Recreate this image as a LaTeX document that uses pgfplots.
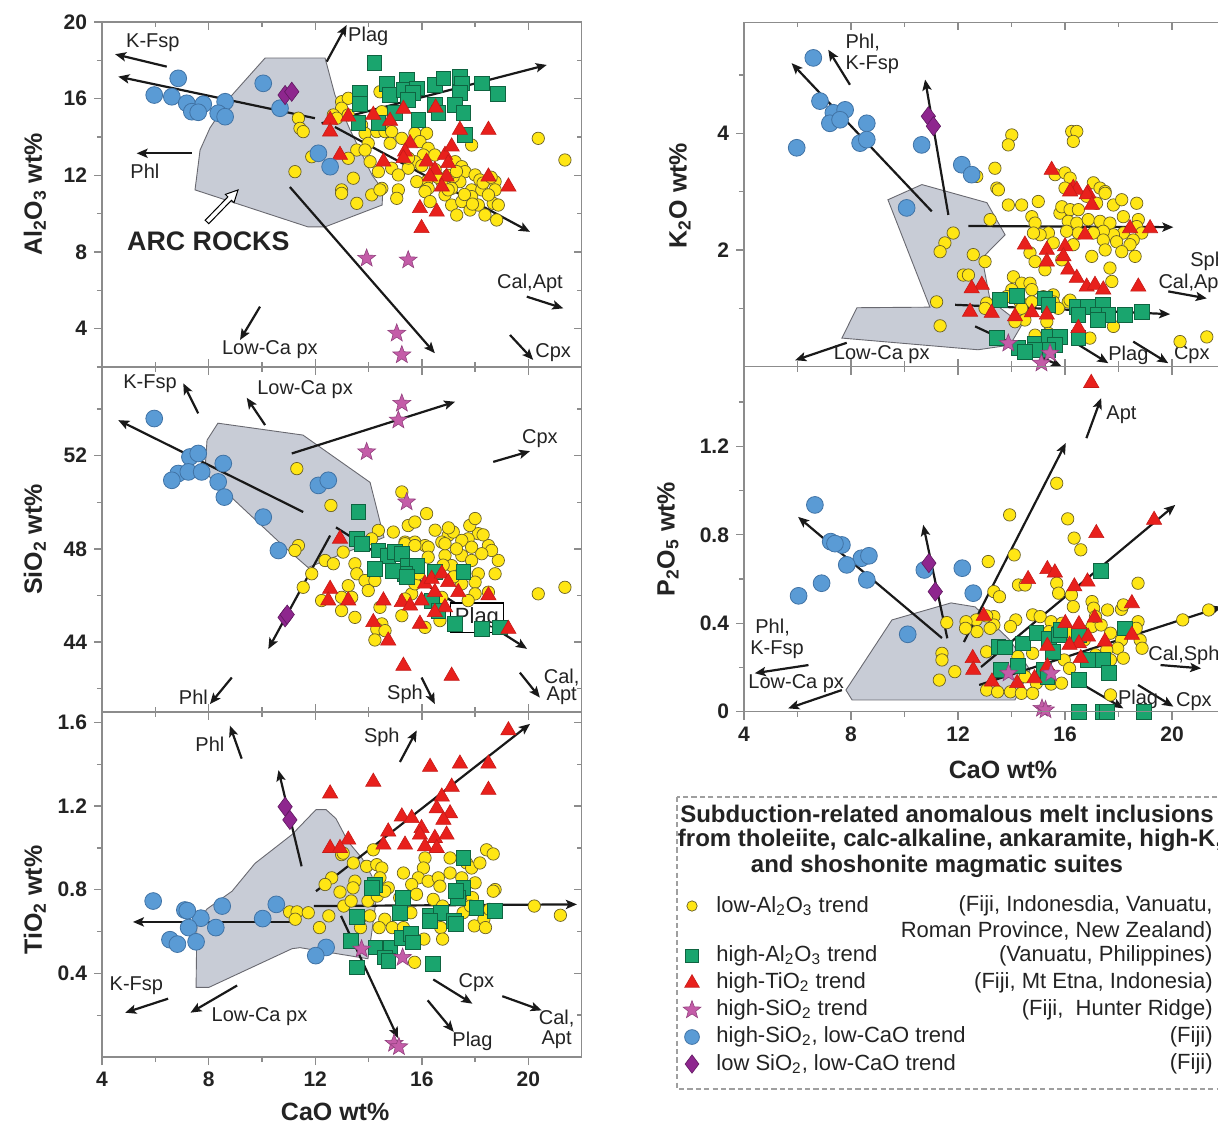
\documentclass[border=0pt]{standalone}
\usepackage{fontspec}
\setmainfont{Liberation Sans}
\usepackage{pgfplots}
\pgfplotsset{compat=1.18}
\usetikzlibrary{arrows.meta}

\definecolor{ylwfill}{RGB}{255,230,20}
\definecolor{ylwedge}{RGB}{105,95,40}
\definecolor{bluefill}{RGB}{90,155,213}
\definecolor{blueedge}{RGB}{65,115,165}
\definecolor{grnfill}{RGB}{26,165,110}
\definecolor{grnedge}{RGB}{15,100,65}
\definecolor{redfill}{RGB}{232,32,28}
\definecolor{pinkfill}{RGB}{196,92,168}
\definecolor{pinkedge}{RGB}{145,65,125}
\definecolor{purpfill}{RGB}{142,38,142}
\definecolor{purpedge}{RGB}{95,25,95}
\definecolor{arcfill}{RGB}{200,204,214}
\definecolor{arcedge}{RGB}{105,105,112}
\definecolor{framegray}{RGB}{140,140,140}
\definecolor{ink}{RGB}{35,35,35}

% filled five-pointed star
\pgfdeclareplotmark{fstar}{%
  \pgfpathmoveto{\pgfpointpolar{90}{\pgfplotmarksize}}%
  \pgfpathlineto{\pgfpointpolar{126}{0.42\pgfplotmarksize}}%
  \pgfpathlineto{\pgfpointpolar{162}{\pgfplotmarksize}}%
  \pgfpathlineto{\pgfpointpolar{198}{0.42\pgfplotmarksize}}%
  \pgfpathlineto{\pgfpointpolar{234}{\pgfplotmarksize}}%
  \pgfpathlineto{\pgfpointpolar{270}{0.42\pgfplotmarksize}}%
  \pgfpathlineto{\pgfpointpolar{306}{\pgfplotmarksize}}%
  \pgfpathlineto{\pgfpointpolar{342}{0.42\pgfplotmarksize}}%
  \pgfpathlineto{\pgfpointpolar{18}{\pgfplotmarksize}}%
  \pgfpathlineto{\pgfpointpolar{54}{0.42\pgfplotmarksize}}%
  \pgfpathclose
  \pgfusepathqfillstroke
}

\pgfplotsset{
  ylw/.style={only marks, mark=*, mark size=3.1pt, mark options={fill=ylwfill, draw=ylwedge, line width=0.35pt}},
  blu/.style={only marks, mark=*, mark size=4.2pt, mark options={fill=bluefill, draw=blueedge, line width=0.4pt}},
  grn/.style={only marks, mark=square*, mark size=3.7pt, mark options={fill=grnfill, draw=grnedge, line width=0.4pt}},
  rtri/.style={only marks, mark=triangle*, mark size=4.4pt, mark options={fill=redfill, draw=redfill!85!black, line width=0.3pt}},
  pstar/.style={only marks, mark=fstar, mark size=4.7pt, mark options={fill=pinkfill, draw=pinkedge, line width=0.3pt}},
  pdia/.style={only marks, mark=diamond*, mark size=4.8pt, mark options={fill=purpfill, draw=purpedge, line width=0.3pt}},
  arc/.style={fill=arcfill, draw=arcedge, line width=0.45pt},
  panel/.style={scale only axis, clip=false, anchor=north west, xmin=4, xmax=22,
    axis line style={draw=framegray, line width=0.7pt},
    tick style={draw=framegray, line width=0.7pt},
    major tick length=4pt, minor tick length=2.6pt,
    /pgf/number format/assume math mode=true,
    ticklabel style={font=\bfseries\fontsize{10.5}{12}\selectfont, text=ink},
    label style={font=\bfseries\fontsize{12.5}{14}\selectfont, text=ink}},
  leftpanel/.style={panel, width=239.85pt, height=172.5pt},
  rightpanel/.style={panel, width=240.75pt, height=172.5pt},
  % second frame carrying only the inward ticks on the top and right sides
  ticksin/.style={tick align=inside, ytick pos=right,
    xticklabel={\relax}, yticklabel={\relax},
    xtick={4,8,12,16,20}, minor xtick={6,10,14,18}},
}
\tikzset{
  arr/.style={-{Stealth[length=5.5pt,width=4.6pt,inset=1.2pt]}, line width=1.1pt, draw=black!90},
  lbl/.style={font=\fontsize{10}{12}\selectfont, text=ink, inner sep=0pt},
}

\begin{document}
\begin{tikzpicture}
\path[use as bounding box, clip] (0,0) rectangle (609pt,-561.5pt);

%% ---------------- Al2O3 vs CaO ----------------
\begin{axis}[leftpanel, at={(51pt,-11pt)}, ymin=2, ymax=20,
  ytick={4,8,12,16,20}, minor ytick={2,6,10,14,18}, xtick=\empty,
  tick align=outside, ytick pos=left,
  ylabel={Al\textsubscript{2}O\textsubscript{3} wt\%},
  ylabel style={at={(axis description cs:-0.140,0.5)}, anchor=center}]
\addplot[arc] coordinates {(10.12,18.12)(12.37,18.12)(12.74,16.19)(13.31,14.37)(14.13,12.02)(14.54,11.24)(14.51,10.45)(12.37,9.31)(11.73,9.31)(7.49,11.24)(7.68,13.32)(8.05,14.47)(8.88,16.19)} -- cycle;
\draw[arr] (6.43,17.67) -- (4.49,18.32);
\draw[arr] (11.99,14.98) -- (4.61,17.15);
\draw[arr] (7.37,13.15) -- (5.30,13.15);
\draw[arr] (12.43,17.93) -- (13.18,19.84);
\draw[arr] (12.24,14.72) -- (20.69,17.76);
\draw[arr] (12.74,14.52) -- (20.06,9.05);
\draw[arr] (11.05,11.39) -- (16.49,2.72);
\draw[arr] (19.94,5.67) -- (21.31,5.06);
\draw[arr] (19.31,3.67) -- (20.18,2.37);
\draw[arr] (9.93,5.15) -- (9.18,3.41);
\addplot[ylw] coordinates {(12.99,15.84)(13.24,16.02)(14.43,16.36)(12.99,15.50)(12.68,15.15)(12.81,14.98)(11.37,14.98)(11.43,14.45)(11.55,14.28)(14.50,15.32)(13.24,15.15)(13.74,14.63)(13.87,14.19)(14.31,14.28)(14.62,14.28)(14.87,14.28)(15.74,14.19)(16.18,14.19)(13.99,13.67)(14.81,13.67)(13.56,13.32)(13.87,13.32)(15.25,13.93)(15.93,13.76)(16.24,13.41)(16.06,13.06)(15.74,12.71)(16.49,13.06)(17.87,13.58)(20.37,13.93)(21.37,12.80)(13.24,12.89)(14.06,12.71)(11.87,12.97)(11.24,12.19)(13.43,11.85)(14.37,12.19)(14.87,12.37)(15.49,12.37)(15.12,12.02)(17.25,12.71)(17.50,12.45)(17.62,12.19)(18.00,12.02)(18.18,11.76)(18.75,11.67)(17.43,11.67)(17.18,11.93)(16.75,11.67)(16.18,11.67)(16.24,11.32)(17.12,11.32)(17.87,11.24)(18.25,11.24)(18.75,11.24)(12.99,11.24)(14.50,11.32)(15.12,11.24)(15.81,11.67)(12.99,11.06)(13.56,10.54)(14.12,10.98)(14.43,11.24)(15.06,10.80)(16.12,11.15)(16.31,10.63)(16.87,10.98)(17.12,10.45)(17.31,9.93)(17.50,10.63)(17.87,10.89)(17.81,10.19)(18.12,10.45)(18.37,9.93)(18.68,10.54)(18.87,10.45)(18.81,9.67)(18.50,10.98)(16.99,11.24)(16.5,12.3)(17.0,12.0)(17.6,11.0)(18.3,11.6)(16.6,11.9)(17.9,10.5)(18.6,11.9)(16.0,12.5)(17.3,12.2)(15.5,12.9)};
\addplot[grn] coordinates {(14.22,17.85)(13.68,16.28)(13.68,15.71)(14.68,16.75)(14.81,16.19)(15.43,16.97)(15.31,16.45)(15.81,16.54)(15.68,16.28)(15.49,15.93)(16.49,16.71)(16.81,17.06)(17.43,17.15)(17.50,16.80)(17.43,16.28)(18.25,16.80)(18.87,16.23)(16.49,15.67)(17.25,15.67)(16.62,15.24)(17.56,15.24)(14.99,15.24)(15.87,14.89)(13.62,14.72)(14.37,14.72)(17.62,14.11)};
\addplot[rtri] coordinates {(12.56,14.89)(12.56,14.28)(13.24,15.06)(14.18,15.15)(14.81,14.84)(15.31,15.46)(16.52,15.53)(17.43,14.37)(18.50,14.37)(12.93,13.06)(14.56,12.71)(15.56,13.67)(15.37,13.23)(15.31,12.89)(16.87,13.06)(17.12,13.50)(16.18,12.71)(16.99,12.63)(16.49,12.28)(16.31,11.93)(16.93,11.93)(18.50,11.93)(16.75,11.41)(19.25,11.41)(15.93,10.28)(16.56,10.10)(15.99,9.24)};
\addplot[blu] coordinates {(6.86,17.06)(5.96,16.19)(6.62,16.10)(7.18,15.76)(7.80,15.71)(7.37,15.32)(7.61,15.29)(8.62,15.84)(8.36,15.24)(8.62,15.06)(10.05,16.80)(10.68,15.50)(12.12,13.15)(12.56,12.45)};
\addplot[pdia] coordinates {(10.87,16.19)(11.12,16.36)};
\addplot[pstar] coordinates {(13.93,7.67)(15.49,7.58)(15.06,3.76)(15.25,2.63)};
\draw[fill=white, draw=black, line width=0.5pt] (8.008,9.478) -- (8.859,10.699) -- (8.952,10.569) -- (9.103,11.236) -- (8.628,11.007) -- (8.724,10.876) -- (7.872,9.656) -- cycle;
\node[lbl] at (5.91,18.90) {K-Fsp};
\node[lbl] at (5.61,12.19) {Phl};
\node[lbl] at (13.99,19.23) {Plag};
\node[lbl] at (20.06,6.37) {Cal,Apt};
\node[lbl] at (20.93,2.75) {Cpx};
\node[lbl] at (10.30,2.93) {Low-Ca px};
\node[font=\bfseries\fontsize{13.4}{15}\selectfont, text=ink] at (7.99,8.54) {ARC ROCKS};
\end{axis}
\begin{axis}[leftpanel, ticksin, at={(51pt,-11pt)}, ymin=2, ymax=20,
  ytick={4,8,12,16,20}, minor ytick={2,6,10,14,18}, xtick pos=both]
\end{axis}

%% ---------------- SiO2 vs CaO ----------------
\begin{axis}[leftpanel, at={(51pt,-183.5pt)}, ymin=41, ymax=55.8,
  ytick={44,48,52}, minor ytick={42,46,50,54}, xtick=\empty,
  tick align=outside, ytick pos=left,
  ylabel={SiO\textsubscript{2} wt\%},
  ylabel style={at={(axis description cs:-0.140,0.5)}, anchor=center}]
\addplot[arc] coordinates {(8.35,53.39)(11.54,52.88)(14.06,50.85)(14.58,48.49)(11.73,47.20)(10.79,48.14)(9.18,49.86)(7.86,51.28)(7.94,52.66)} -- cycle;
\draw[arr] (7.61,53.81) -- (7.05,55.10);
\draw[arr] (10.12,53.31) -- (9.43,54.48);
\draw[arr] (11.55,49.58) -- (4.61,53.52);
\draw[arr] (11.12,52.09) -- (17.25,54.31);
\draw[arr] (18.68,51.73) -- (20.06,52.19);
\draw[arr] (12.56,48.57) -- (10.24,43.70);
\draw[arr] (12.78,48.92) -- (19.95,43.71);
\draw[arr] (8.87,42.48) -- (8.05,41.34);
\draw[arr] (15.99,42.48) -- (16.49,41.34);
\draw[arr] (19.68,42.69) -- (20.43,41.62);
\addplot[ylw] coordinates {(11.31,51.44)(12.59,49.86)(15.25,50.44)(16.18,49.51)(15.49,49.00)(15.74,49.15)(14.37,48.79)(14.93,48.72)(16.99,48.57)(17.18,48.72)(18.12,48.65)(17.74,48.43)(14.12,48.43)(11.37,48.14)(15.37,48.29)(15.74,48.29)(16.12,48.14)(16.75,48.29)(17.50,48.36)(18.50,48.14)(11.24,47.93)(11.87,46.93)(11.55,46.35)(12.37,47.50)(12.68,47.36)(13.05,47.86)(13.49,47.36)(13.56,46.93)(13.24,46.42)(13.87,46.64)(14.24,46.64)(13.99,46.21)(12.24,45.78)(12.99,45.92)(13.37,45.92)(12.99,45.35)(13.49,45.06)(14.43,45.49)(15.25,45.13)(14.50,44.78)(14.31,44.56)(14.62,44.49)(14.24,44.09)(16.12,44.63)(16.68,44.92)(15.62,46.07)(15.74,46.50)(15.87,46.93)(14.74,47.79)(15.37,48.22)(15.74,48.14)(16.24,48.07)(16.24,47.64)(16.87,47.71)(17.12,47.28)(17.50,47.71)(17.87,47.50)(17.62,46.93)(18.12,46.93)(18.00,46.57)(18.75,46.93)(18.87,47.50)(18.62,47.93)(16.87,48.22)(17.87,48.07)(18.25,47.79)(17.50,46.50)(18.00,46.07)(18.50,46.14)(17.74,45.78)(20.37,46.07)(21.37,46.35)(16.75,45.92)(15.37,45.85)(17.0,48.9)(17.8,49.0)(18.3,48.6)(16.5,48.8)(17.3,48.0)(18.0,49.3)(16.8,47.3)(17.2,46.8)};
\addplot[grn] coordinates {(13.62,49.58)(13.56,48.43)(13.74,48.22)(14.37,47.93)(14.74,47.71)(14.99,47.86)(15.25,47.79)(15.49,47.28)(15.81,47.28)(15.37,46.93)(14.93,47.07)(14.24,47.14)(15.43,46.78)(17.56,47.00)(16.37,45.78)(16.62,45.35)(17.25,44.78)(18.25,44.56)(18.94,44.63)(16.49,47.0)};
\addplot[rtri] coordinates {(12.93,48.43)(12.56,46.28)(12.49,45.78)(13.24,45.78)(14.56,45.78)(15.25,45.71)(15.56,45.56)(14.18,44.85)(14.74,44.06)(15.93,44.78)(15.31,42.98)(17.12,42.55)(16.12,46.50)(16.37,46.71)(16.75,46.93)(16.99,46.57)(16.49,46.14)(17.37,46.14)(18.50,46.00)(15.99,45.78)(16.87,45.49)(16.49,45.28)(19.25,44.56)};
\addplot[blu] coordinates {(5.96,53.59)(7.30,51.94)(7.61,52.09)(8.55,51.66)(6.86,51.23)(7.24,51.30)(6.62,50.94)(7.74,51.30)(8.36,50.87)(8.59,50.22)(10.05,49.36)(12.12,50.72)(12.49,50.94)(10.62,47.93)};
\addplot[pdia] coordinates {(10.87,45.06)(10.95,45.18)};
\addplot[pstar] coordinates {(15.25,54.24)(15.12,53.52)(13.93,52.16)(15.43,50.01)};
\node[lbl] at (5.80,55.10) {K-Fsp};
\node[lbl] at (11.62,54.81) {Low-Ca px};
\node[lbl] at (20.43,52.73) {Cpx};
\node[lbl, draw=black, fill=white, inner sep=2.2pt, line width=0.6pt, font=\fontsize{11}{13}\selectfont] at (18.07,45.05) {Plag};
\node[lbl] at (7.43,41.62) {Phl};
\node[lbl] at (15.37,41.77) {Sph};
\node[lbl] at (21.25,42.48) {Cal,};
\node[lbl] at (21.25,41.69) {Apt};
\end{axis}
\begin{axis}[leftpanel, ticksin, at={(51pt,-183.5pt)}, ymin=41, ymax=55.8,
  ytick={44,48,52}, minor ytick={42,46,50,54}, xtick pos=both]
\end{axis}

%% ---------------- TiO2 vs CaO ----------------
\begin{axis}[leftpanel, at={(51pt,-356pt)}, ymin=0, ymax=1.65,
  ytick={0.4,0.8,1.2,1.6}, yticklabels={0.4,0.8,1.2,1.6}, minor ytick={0.2,0.6,1.0,1.4},
  xtick={4,8,12,16,20}, xticklabels={4,8,12,16,20}, minor xtick={6,10,14,18},
  tick align=outside, ytick pos=left, xtick pos=left,
  ylabel={TiO\textsubscript{2} wt\%},
  ylabel style={at={(axis description cs:-0.140,0.455)}, anchor=center},
  xlabel={CaO wt\%},
  xlabel style={at={(axis description cs:0.486,-0.158)}, anchor=center}]
\addplot[arc] coordinates {(12.03,1.183)(12.41,1.183)(12.78,1.140)(13.23,1.031)(13.76,0.950)(14.13,0.865)(14.28,0.746)(14.13,0.603)(13.98,0.470)(11.43,0.523)(11.13,0.518)(8.01,0.333)(7.53,0.333)(7.56,0.641)(7.94,0.708)(8.88,0.793)(9.74,0.926)(11.13,1.064)} -- cycle;
\draw[arr] (9.24,1.427) -- (8.80,1.585);
\draw[arr] (15.18,1.411) -- (15.81,1.562);
\draw[arr] (12.03,0.793) -- (20.06,1.593);
\draw[arr] (11.49,0.912) -- (10.62,1.372);
\draw[arr] (11.95,0.722) -- (21.82,0.730);
\draw[arr] (11.17,0.646) -- (5.16,0.646);
\draw[arr] (12.97,0.675) -- (15.11,0.090);
\draw[arr] (6.48,0.279) -- (4.87,0.212);
\draw[arr] (9.07,0.342) -- (7.32,0.212);
\draw[arr] (16.43,0.371) -- (17.90,0.255);
\draw[arr] (16.22,0.271) -- (17.20,0.120);
\draw[arr] (19.02,0.291) -- (20.50,0.223);
\addplot[ylw] coordinates {(12.99,0.968)(13.05,0.975)(14.18,0.991)(18.43,0.991)(18.68,0.971)(16.12,0.952)(17.06,0.952)(13.43,0.928)(13.93,0.912)(14.31,0.920)(14.50,0.904)(17.68,0.928)(17.87,0.904)(18.18,0.928)(16.06,0.904)(15.31,0.880)(15.87,0.857)(16.24,0.841)(16.62,0.857)(17.06,0.880)(17.50,0.857)(18.00,0.833)(12.62,0.857)(12.37,0.825)(13.49,0.841)(14.43,0.857)(14.74,0.809)(15.62,0.825)(18.75,0.801)(16.68,0.817)(11.04,0.694)(11.32,0.694)(11.74,0.690)(11.25,0.659)(12.16,0.619)(12.51,0.675)(12.93,0.789)(13.42,0.809)(13.07,0.722)(13.35,0.746)(13.98,0.746)(14.33,0.770)(14.61,0.793)(13.70,0.667)(14.05,0.675)(14.61,0.659)(14.40,0.619)(13.70,0.619)(14.89,0.619)(15.31,0.619)(15.59,0.690)(15.80,0.778)(16.43,0.754)(16.78,0.722)(16.29,0.667)(16.71,0.619)(16.08,0.564)(16.78,0.564)(15.73,0.453)(17.90,0.762)(17.97,0.627)(18.33,0.659)(18.39,0.619)(18.54,0.706)(18.68,0.793)(20.22,0.722)(21.20,0.678)(15.17,0.762)(17.55,0.690)(17.83,0.722)};
\addplot[grn] coordinates {(17.56,0.952)(14.24,0.825)(17.56,0.809)(15.28,0.762)(13.56,0.671)(15.17,0.690)(16.29,0.675)(16.71,0.690)(17.20,0.651)(17.34,0.762)(17.27,0.793)(18.05,0.714)(18.74,0.698)(13.35,0.556)(14.26,0.524)(14.82,0.524)(14.61,0.476)(14.75,0.461)(13.56,0.429)(15.24,0.571)(15.59,0.588)(15.66,0.548)(16.43,0.445)(16.29,0.651)(17.27,0.635)(14.12,0.809)};
\addplot[rtri] coordinates {(19.25,1.562)(16.31,1.387)(17.43,1.403)(18.50,1.403)(14.18,1.316)(12.56,1.260)(17.12,1.292)(18.50,1.277)(16.75,1.245)(16.56,1.189)(17.06,1.165)(15.25,1.150)(15.62,1.142)(16.81,1.134)(14.74,1.078)(15.99,1.094)(15.93,1.063)(16.49,1.047)(16.93,1.063)(13.24,1.039)(12.56,0.999)(12.93,0.999)(14.56,1.015)(15.37,1.015)(16.12,1.007)(16.56,0.999)};
\addplot[blu] coordinates {(5.92,0.746)(7.11,0.703)(7.71,0.664)(7.25,0.619)(8.27,0.619)(8.51,0.722)(10.54,0.730)(10.03,0.662)(6.55,0.561)(6.83,0.540)(7.53,0.551)(12.41,0.524)(12.02,0.485)(7.20,0.700)};
\addplot[pdia] coordinates {(10.87,1.197)(11.05,1.134)};
\addplot[pstar] coordinates {(13.74,0.516)(15.28,0.476)(14.96,0.065)(15.14,0.049)};
\node[lbl] at (8.05,1.498) {Phl};
\node[lbl] at (14.50,1.530) {Sph};
\node[lbl] at (5.29,0.342) {K-Fsp};
\node[lbl] at (9.91,0.191) {Low-Ca px};
\node[lbl] at (18.05,0.358) {Cpx};
\node[lbl] at (17.90,0.073) {Plag};
\node[lbl] at (21.06,0.184) {Cal,};
\node[lbl] at (21.06,0.081) {Apt};
\end{axis}
\begin{axis}[leftpanel, ticksin, at={(51pt,-356pt)}, ymin=0, ymax=1.65,
  ytick={0.4,0.8,1.2,1.6}, minor ytick={0.2,0.6,1.0,1.4}, xtick pos=right]
\end{axis}

%% ---------------- K2O vs CaO ----------------
\begin{axis}[rightpanel, at={(372pt,-11.15pt)}, height=172.2pt, ymin=0, ymax=5.9,
  ytick={2,4}, yticklabels={2,4}, minor ytick={1,3,5}, xtick=\empty,
  tick align=outside, ytick pos=left,
  ylabel={K\textsubscript{2}O wt\%},
  ylabel style={at={(axis description cs:-0.133,0.497)}, anchor=center}]
\addplot[arc] coordinates {(9.38,2.86)(10.65,3.12)(13.08,2.81)(13.76,2.26)(12.90,1.86)(13.20,1.14)(14.39,0.72)(13.94,0.37)(12.75,0.29)(7.66,0.49)(8.22,1.01)(10.95,1.02)} -- cycle;
\draw[arr] (11.02,2.66) -- (5.78,5.20);
\draw[arr] (7.96,4.83) -- (7.15,5.43);
\draw[arr] (11.64,2.60) -- (10.77,4.92);
\draw[arr] (12.39,2.41) -- (20.05,2.39);
\draw[arr] (11.89,1.06) -- (19.93,0.90);
\draw[arr] (12.64,0.69) -- (15.88,0.0);
\draw[arr] (16.31,0.43) -- (17.62,0.06);
\draw[arr] (18.55,0.43) -- (19.86,0.06);
\draw[arr] (19.86,1.29) -- (21.30,1.17);
\draw[arr] (7.84,0.41) -- (5.91,0.11);
\addplot[ylw] coordinates {(14.01,3.97)(13.88,3.80)(16.25,4.03)(16.44,4.03)(16.31,3.86)(12.70,3.26)(13.38,3.40)(13.45,3.06)(15.63,3.29)(16.00,3.32)(16.19,3.23)(17.06,3.15)(17.31,3.06)(16.00,3.06)(17.50,3.00)(13.51,3.03)(13.88,2.77)(14.38,2.77)(15.00,2.83)(14.76,2.57)(13.20,2.52)(14.88,2.46)(15.81,2.63)(15.88,2.74)(16.19,2.69)(16.50,2.69)(16.81,2.92)(17.18,2.80)(17.50,2.97)(17.81,2.77)(18.12,2.86)(18.68,2.80)(16.12,2.49)(16.44,2.46)(16.87,2.52)(17.31,2.49)(17.68,2.46)(18.18,2.57)(18.74,2.52)(18.68,2.40)(18.87,2.29)(18.18,2.29)(17.81,2.26)(17.43,2.32)(17.06,2.29)(16.50,2.29)(16.06,2.32)(15.38,2.29)(15.56,2.12)(15.07,2.26)(14.82,2.29)(17.43,2.17)(17.93,2.14)(18.55,2.17)(18.43,2.09)(18.12,1.97)(17.50,2.00)(17.00,1.89)(18.62,1.89)(17.68,1.69)(17.75,1.46)(16.31,2.09)(15.88,1.83)(14.69,1.95)(15.25,1.66)(14.88,1.80)(11.82,2.29)(11.51,2.12)(11.33,1.97)(12.57,1.92)(13.01,1.80)(12.20,1.57)(12.39,1.57)(11.20,1.11)(11.33,0.70)(14.07,1.54)(14.38,1.43)(14.69,1.43)(14.76,1.32)(14.01,1.32)(13.82,1.20)(13.07,1.09)(13.01,1.00)(14.32,1.11)(14.76,1.11)(14.38,1.00)(15.19,1.20)(15.56,1.23)(16.12,1.11)(15.56,1.11)(15.75,1.00)(14.50,0.80)(14.13,0.77)(15.32,0.77)(14.88,0.54)(15.38,0.57)(16.93,0.49)(17.81,0.69)(20.30,0.43)(21.30,0.51)(16.19,1.14)};
\addplot[grn] coordinates {(13.57,1.14)(14.19,1.21)(15.25,1.17)(15.38,1.06)(16.44,1.03)(16.87,1.03)(17.43,1.06)(17.24,0.89)(17.62,0.89)(17.24,0.80)(16.50,0.89)(18.24,0.89)(18.87,0.94)(13.45,0.49)(14.26,0.32)(14.88,0.40)(15.38,0.51)(15.81,0.51)(15.63,0.37)(15.38,0.29)(14.88,0.29)(16.50,0.49)(14.50,0.26)};
\addplot[rtri] coordinates {(15.50,3.37)(16.31,3.06)(16.44,3.03)(16.87,2.97)(16.19,3.00)(16.81,2.95)(17.00,2.77)(16.75,2.26)(18.43,2.37)(19.18,2.37)(14.50,2.09)(15.32,2.00)(16.00,2.06)(15.94,1.89)(15.32,1.80)(16.12,1.66)(16.44,1.52)(16.81,1.37)(17.12,1.40)(17.43,1.32)(18.74,1.37)(12.89,1.40)(12.51,1.34)(12.45,0.94)(13.26,0.92)(14.13,0.86)(14.76,0.93)(15.32,0.89)(16.50,0.66)};
\addplot[blu] coordinates {(6.59,5.29)(6.84,4.55)(7.34,4.35)(7.78,4.40)(7.21,4.17)(7.59,4.23)(8.59,4.17)(8.34,3.83)(8.59,3.89)(5.97,3.75)(10.64,3.80)(12.14,3.46)(12.51,3.29)(10.08,2.72)};
\addplot[pdia] coordinates {(10.89,4.29)(11.08,4.12)};
\addplot[pstar] coordinates {(13.88,0.40)(15.44,0.23)(15.12,0.06)};
\node[lbl, anchor=west] at (7.78,5.55) {Phl,};
\node[lbl, anchor=west] at (7.78,5.17) {K-Fsp};
\node[lbl] at (18.37,0.20) {Plag};
\node[lbl] at (20.74,0.20) {Cpx};
\node[lbl, anchor=west] at (20.67,1.80) {Sph};
\node[lbl, anchor=west] at (19.48,1.43) {Cal,Apt};
\node[lbl] at (9.15,0.20) {Low-Ca px};
\end{axis}
\begin{axis}[rightpanel, ticksin, at={(372pt,-11.15pt)}, height=172.2pt, ymin=0, ymax=5.9,
  ytick={2,4}, minor ytick={1,3,5}, xtick pos=both]
\end{axis}

%% ---------------- P2O5 vs CaO ----------------
\begin{axis}[rightpanel, at={(372pt,-183.35pt)}, ymin=0, ymax=1.56,
  ytick={0,0.4,0.8,1.2}, yticklabels={0,0.4,0.8,1.2}, minor ytick={0.2,0.6,1.0,1.4},
  xtick={4,8,12,16,20}, xticklabels={4,8,12,16,20}, minor xtick={6,10,14,18},
  tick align=outside, ytick pos=left, xtick pos=left,
  ylabel={P\textsubscript{2}O\textsubscript{5} wt\%},
  ylabel style={at={(axis description cs:-0.158,0.5)}, anchor=center},
  xlabel={CaO wt\%},
  xlabel style={at={(axis description cs:0.538,-0.169)}, anchor=center}]
\addplot[arc] coordinates {(7.81,0.098)(8.04,0.053)(14.13,0.053)(14.69,0.189)(13.94,0.324)(12.64,0.474)(11.74,0.492)(9.53,0.415)} -- cycle;
\draw[arr] (16.80,1.237) -- (17.35,1.418);
\draw[arr] (12.22,0.315) -- (16.03,1.215);
\draw[arr] (12.86,0.202) -- (20.12,0.935);
\draw[arr] (11.40,0.333) -- (6.02,0.881);
\draw[arr] (11.60,0.332) -- (10.70,0.845);
\draw[arr] (12.79,0.121) -- (21.87,0.475);
\draw[arr] (6.41,0.211) -- (4.40,0.174);
\draw[arr] (7.66,0.098) -- (5.65,0.015);
\draw[arr] (19.57,0.211) -- (21.09,0.196);
\draw[arr] (16.80,0.113) -- (18.18,0.015);
\draw[arr] (18.73,0.121) -- (20.05,0.023);
\addplot[ylw] coordinates {(15.69,1.033)(13.93,0.890)(16.10,0.872)(16.34,0.785)(16.59,0.732)(14.10,0.709)(13.13,0.679)(14.26,0.573)(14.51,0.573)(13.34,0.543)(13.55,0.520)(15.69,0.581)(15.76,0.536)(16.24,0.528)(16.31,0.475)(17.01,0.498)(17.07,0.468)(17.59,0.460)(18.11,0.463)(18.18,0.483)(18.73,0.581)(14.79,0.438)(15.07,0.430)(14.16,0.415)(13.96,0.385)(13.34,0.430)(13.34,0.392)(13.07,0.433)(13.20,0.377)(12.68,0.415)(12.71,0.362)(13.07,0.271)(12.30,0.407)(12.28,0.377)(11.40,0.264)(11.40,0.234)(11.88,0.181)(11.30,0.143)(11.58,0.403)(15.48,0.407)(15.41,0.362)(15.89,0.400)(16.17,0.355)(16.72,0.362)(17.01,0.385)(17.35,0.392)(17.70,0.355)(18.11,0.324)(17.97,0.287)(17.56,0.279)(17.14,0.257)(18.18,0.242)(18.81,0.324)(18.73,0.407)(18.88,0.287)(18.66,0.377)(17.70,0.234)(14.24,0.249)(14.79,0.264)(15.97,0.234)(16.17,0.196)(14.51,0.158)(14.93,0.129)(15.48,0.125)(13.07,0.098)(13.48,0.090)(13.96,0.090)(14.37,0.083)(14.79,0.083)(17.70,0.076)(20.40,0.415)(21.37,0.460)(15.87,0.129)(17.14,0.430)(16.72,0.324)};
\addplot[grn] coordinates {(17.35,0.638)(18.25,0.377)(13.51,0.294)(13.75,0.291)(14.44,0.309)(14.93,0.355)(15.41,0.328)(15.76,0.347)(15.83,0.370)(14.24,0.207)(13.61,0.189)(15.20,0.189)(15.34,0.158)(15.55,0.271)(16.52,0.347)(16.86,0.234)(17.42,0.234)(17.63,0.174)(16.52,0.143)(16.52,0.0)(17.42,0.0)(17.56,0.0)(18.94,0.0)};
\addplot[rtri] coordinates {(16.98,1.486)(17.17,0.807)(19.33,0.867)(15.34,0.644)(15.62,0.629)(14.62,0.599)(16.35,0.566)(16.84,0.588)(18.50,0.490)(17.11,0.425)(16.01,0.400)(16.52,0.395)(16.86,0.339)(16.52,0.309)(16.17,0.302)(17.49,0.317)(18.50,0.347)(15.34,0.297)(12.96,0.433)(12.55,0.242)(12.57,0.189)(16.59,0.242)(15.34,0.204)(14.86,0.151)(13.27,0.136)(14.21,0.129)};
\addplot[blu] coordinates {(6.65,0.935)(7.24,0.769)(7.66,0.754)(8.39,0.694)(8.67,0.705)(7.84,0.664)(6.90,0.581)(8.59,0.596)(6.04,0.524)(10.74,0.641)(12.16,0.649)(12.57,0.536)(10.12,0.350)(7.40,0.760)};
\addplot[pdia] coordinates {(10.91,0.672)(11.15,0.543)};
\addplot[pstar] coordinates {(13.89,0.174)(15.48,0.174)(15.14,0.015)(15.27,0.008)};
\node[lbl] at (18.11,1.343) {Apt};
\node[lbl, anchor=west] at (4.41,0.379) {Phl,};
\node[lbl, anchor=west] at (4.22,0.279) {K-Fsp};
\node[lbl, anchor=west] at (4.15,0.129) {Low-Ca px};
\node[lbl, anchor=west] at (19.10,0.257) {Cal,Sph};
\node[lbl] at (18.73,0.056) {Plag};
\node[lbl] at (20.82,0.045) {Cpx};
\end{axis}
\begin{axis}[rightpanel, ticksin, at={(372pt,-183.35pt)}, ymin=0, ymax=1.56,
  ytick={0,0.4,0.8,1.2}, minor ytick={0.2,0.6,1.0,1.4}, xtick pos=right]
\end{axis}

%% ---------------- key to symbols ----------------
\begin{axis}[at={(337.5pt,-397.5pt)}, anchor=north west, scale only axis,
  width=282.5pt, height=147.5pt, xmin=675, xmax=1240, ymin=795, ymax=1090,
  y dir=reverse, hide axis, clip=false]
\draw[draw=gray!75, line width=0.55pt, dash pattern=on 2.6pt off 1.6pt] (677,797) rectangle (1260,1089);
\node[font=\bfseries\fontsize{12}{14}\selectfont, text=ink] at (947,814) {Subduction-related anomalous melt inclusions};
\node[font=\bfseries\fontsize{12}{14}\selectfont, text=ink] at (950,840) {from tholeiite, calc-alkaline, ankaramite, high-K,};
\node[font=\bfseries\fontsize{12}{14}\selectfont, text=ink] at (937,866) {and shoshonite magmatic suites};
\addplot[ylw, mark size=2.6pt] coordinates {(692,906)};
\addplot[grn, mark size=3.4pt] coordinates {(692,956)};
\addplot[rtri, mark size=4.2pt] coordinates {(692,983)};
\addplot[pstar, mark size=4.7pt] coordinates {(692,1010)};
\addplot[blu, mark size=3.7pt] coordinates {(692,1037)};
\addplot[pdia, mark size=4.6pt] coordinates {(692,1064)};
\begin{scope}[every node/.style={font=\fontsize{11}{13}\selectfont, text=ink, inner sep=0pt}]
\node[anchor=west] at (716,906) {low-Al\textsubscript{2}O\textsubscript{3} trend};
\node[anchor=west] at (716,956) {high-Al\textsubscript{2}O\textsubscript{3} trend};
\node[anchor=west] at (716,983) {high-TiO\textsubscript{2} trend};
\node[anchor=west] at (716,1010) {high-SiO\textsubscript{2} trend};
\node[anchor=west] at (716,1037) {high-SiO\textsubscript{2}, low-CaO trend};
\node[anchor=west] at (716,1064) {low SiO\textsubscript{2}, low-CaO trend};
\node[anchor=east] at (1213,906) {(Fiji, Indonesdia, Vanuatu,};
\node[anchor=east] at (1213,932) {Roman Province, New Zealand)};
\node[anchor=east] at (1213,956) {(Vanuatu, Philippines)};
\node[anchor=east] at (1213,983) {(Fiji, Mt Etna, Indonesia)};
\node[anchor=east] at (1213,1010) {(Fiji,~ Hunter Ridge)};
\node[anchor=east] at (1213,1037) {(Fiji)};
\node[anchor=east] at (1213,1064) {(Fiji)};
\end{scope}
\end{axis}
\end{tikzpicture}
\end{document}
